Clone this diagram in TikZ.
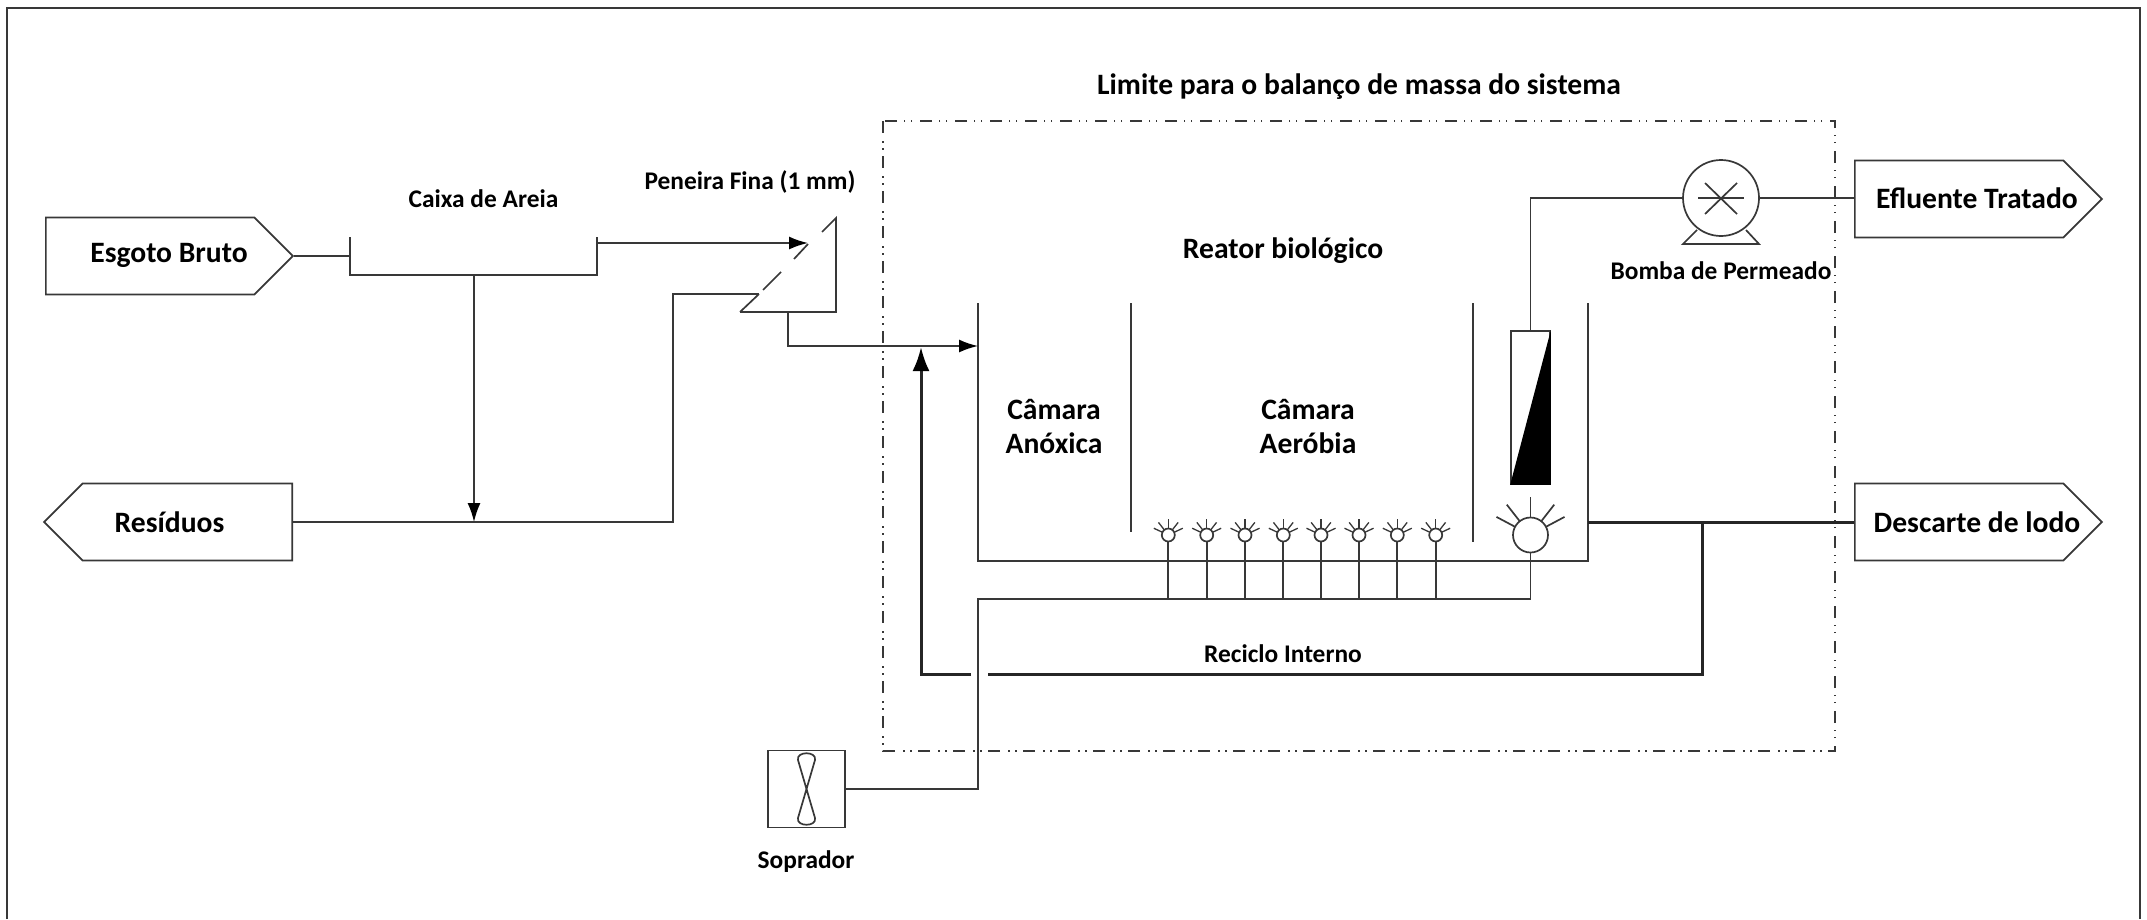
\documentclass[tikz,border=0pt]{standalone}
\usepackage{fontspec}
\setmainfont{Carlito}
\usetikzlibrary{arrows.meta,shapes.symbols}
\definecolor{linhacor}{gray}{0.22}
\tikzset{
  linha/.style={draw=linhacor, line width=1.7pt, line join=miter},
  grossa/.style={draw=black!85, line width=3pt},
  seta/.style={-{Latex[length=19pt,width=13pt,black]}},
  setagrossa/.style={-{Latex[length=24pt,width=17pt,black]}},
  limite/.style={draw=linhacor, line width=1.6pt, dash pattern=on 12pt off 8pt on 1.5pt off 5.5pt on 1.5pt off 6.5pt},
  rotulo/.style={font=\fontsize{29.6}{34}\selectfont\bfseries, align=center, inner sep=0pt},
  rotulop/.style={font=\fontsize{25.4}{30}\selectfont\bfseries, align=center, inner sep=0pt},
  saida/.style={linha, signal, signal to=east, signal pointer angle=90, minimum width=247pt, minimum height=77pt, inner sep=0pt},
  entrada/.style={linha, signal, signal to=west, signal pointer angle=90, minimum width=248pt, minimum height=77pt, inner sep=0pt},
}
\begin{document}
\begin{tikzpicture}[x=1pt,y=-1pt]
\useasboundingbox (0,0) rectangle (2147,919);
\draw[linha] (7,919) -- (7,8) -- (2140,8) -- (2140,919);
\draw[limite] (883,121) rectangle (1835,751);
% blocos de entrada e saida
\node[saida, anchor=west] (esgoto) at (45,256) {};
\node[entrada, anchor=east] (residuos) at (293,522) {};
\node[saida, anchor=west] (efluente) at (1854,199) {};
\node[saida, anchor=west] (descarte) at (1854,522) {};
% caixa de areia
\coordinate (caixaE) at (350,256);
\coordinate (caixaSup) at (597,243);
\coordinate (caixaMeio) at (474,275);
\coordinate (caixaDesc) at (474,522);
\draw[linha] (350,237) -- (350,275) -- (597,275) -- (597,237);
\draw[linha] (esgoto.east) -- (caixaE);
\draw[linha,seta] (caixaMeio) -- (caixaDesc);
% peneira
\coordinate (peneiraEnt) at (808,243);
\coordinate (peneiraRej) at (759,294);
\coordinate (peneiraSai) at (788,312);
\draw[linha] (740,312) -- (836,312) -- (836,218) -- (822,232);
\draw[linha] (808,244) -- (794,259);
\draw[linha] (781,272) -- (763,290);
\draw[linha] (759,294) -- (740,312);
\draw[linha,seta] (caixaSup) -- (peneiraEnt);
\draw[linha] (residuos.east) -| (673,294) -- (peneiraRej);
% reator
\coordinate (anoxE) at (978,346);
\draw[linha] (978,303) -- (978,561) -- (1588,561) -- (1588,303);
\draw[linha] (1131,303) -- (1131,532);
\draw[linha] (1473,303) -- (1473,542);
\draw[linha,seta] (peneiraSai) |- (anoxE);
% membrana e bomba
\node[linha, rectangle, minimum width=39pt, minimum height=153pt, inner sep=0pt] (membrana) at (1530.5,407.5) {};
\fill[black] (membrana.north east) -- (membrana.south east) -- (membrana.south west) -- cycle;
\node[linha, circle, minimum size=76pt, inner sep=0pt] (bomba) at (1721,198) {};
\draw[linha] (1698,198) -- (1744,198);
\draw[linha] (1705,183) -- (1737,214);
\draw[linha] (1705,214) -- (1737,183);
\draw[linha] (1697,230) -- (1683,244) -- (1759,244) -- (1746,230);
\draw[linha] (membrana.north) |- (bomba.west);
\draw[linha] (bomba.east) -- (efluente.west |- bomba.east);
% difusores
\coordinate (arTopo) at (978,599);
\coordinate (arBase) at (978,789);
\foreach \i/\x in {1/1168.3,2/1206.7,3/1245,4/1283.3,5/1321,6/1359,7/1397.3,8/1435.7}{
  \node[linha, circle, minimum size=13pt, inner sep=0pt] (dif\i) at (\x,535) {};
  \foreach \a in {25,52,90,128,155}
    \draw[linha, line width=1.3pt] (\x,535) ++(-\a:6.5) -- ++(-\a:9.5);
  \draw[linha] (dif\i.south) -- (\x,599);
}
\node[linha, circle, minimum size=35pt, inner sep=0pt] (difG) at (1530.5,535) {};
\foreach \a in {28,52,90,128,152}
  \draw[linha] (difG) ++(-\a:17.5) -- ++(-\a:21);
% ar
\node[linha, rectangle, minimum size=77pt, inner sep=0pt] (soprador) at (806.5,789) {};
\draw[linha] (806.5,789) -- (798,760) .. controls (796,751) and (817,751) .. (815,760) -- cycle;
\draw[linha] (806.5,789) -- (798,818) .. controls (796,827) and (817,827) .. (815,818) -- cycle;
\draw[linha] (soprador.east) -- (arBase) -- (arTopo) -- (1530.5,599) -- (difG.south);
% reciclo e descarte
\coordinate (parede) at (1588,522);
\coordinate (ramo) at (1702,522);
\draw[grossa] (parede) -- (descarte.west);
\draw[grossa] (ramo) |- (988,674);
\draw[grossa,setagrossa] (971,674) -| (921,347);
% textos
\node[rotulo] (tEsgoto) at (169,255) {Esgoto Bruto};
\node[rotulo] (tResiduos) at (169.5,522) {Resíduos};
\node[rotulo] (tEfluente) at (1977,198) {Efluente Tratado};
\node[rotulo] (tDescarte) at (1977,522) {Descarte de lodo};
\node[rotulo] (tLimite) at (1359,87) {Limite para o balanço de massa do sistema};
\node[rotulop] (tCaixa) at (483.5,198.5) {Caixa de Areia};
\node[rotulop] (tPeneira) at (750,182) {Peneira Fina (1 mm)};
\node[rotulo] (tReator) at (1283,251) {Reator biológico};
\node[rotulo] (tAnox) at (1054,426) {Câmara\\Anóxica};
\node[rotulo] (tAerob) at (1308,426) {Câmara\\Aeróbia};
\node[rotulop] (tBomba) at (1721,271) {Bomba de Permeado};
\node[rotulop] (tReciclo) at (1283,654) {Reciclo Interno};
\node[rotulop] (tSoprador) at (806,862) {Soprador};
\end{tikzpicture}
\end{document}
